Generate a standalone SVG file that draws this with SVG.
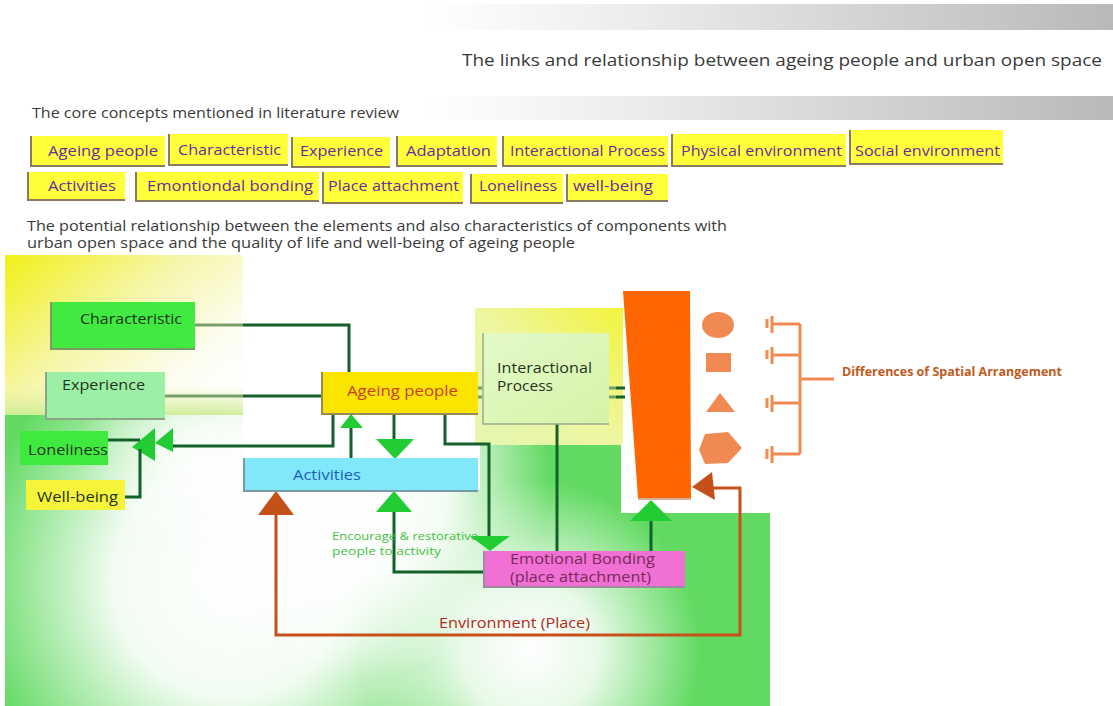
<svg xmlns="http://www.w3.org/2000/svg" width="1113" height="706" viewBox="0 0 1113 706">
<defs>
<linearGradient id="band" x1="0" y1="0" x2="1" y2="0"><stop offset="0" stop-color="#ffffff"/><stop offset="0.3" stop-color="#ececec"/><stop offset="1" stop-color="#b9b9b9"/></linearGradient>
<linearGradient id="yel" x1="0" y1="0" x2="1" y2="0.8"><stop offset="0" stop-color="#f0f018"/><stop offset="0.45" stop-color="#f6f6a8"/><stop offset="0.8" stop-color="#fdfdf0"/><stop offset="1" stop-color="#ffffff"/></linearGradient>
<linearGradient id="yelb" x1="0" y1="0" x2="0" y2="1"><stop offset="0" stop-color="#e8f0a0" stop-opacity="0"/><stop offset="1" stop-color="#c8ec90" stop-opacity="0.9"/></linearGradient>
<radialGradient id="wb1" gradientUnits="userSpaceOnUse" cx="230" cy="580" r="260"><stop offset="0" stop-color="#ffffff"/><stop offset="0.45" stop-color="#ffffff" stop-opacity="0.92"/><stop offset="1" stop-color="#ffffff" stop-opacity="0"/></radialGradient>
<radialGradient id="wb2" gradientUnits="userSpaceOnUse" cx="530" cy="650" r="170"><stop offset="0" stop-color="#ffffff"/><stop offset="0.4" stop-color="#ffffff" stop-opacity="0.85"/><stop offset="1" stop-color="#ffffff" stop-opacity="0"/></radialGradient>
<radialGradient id="wb3" gradientUnits="userSpaceOnUse" cx="350" cy="480" r="200"><stop offset="0" stop-color="#ffffff"/><stop offset="0.5" stop-color="#ffffff" stop-opacity="0.9"/><stop offset="1" stop-color="#ffffff" stop-opacity="0"/></radialGradient>
<radialGradient id="wb4" gradientUnits="userSpaceOnUse" cx="190" cy="450" r="110"><stop offset="0" stop-color="#ffffff" stop-opacity="0.85"/><stop offset="1" stop-color="#ffffff" stop-opacity="0"/></radialGradient>
<linearGradient id="ipbg" x1="1" y1="0" x2="0" y2="1"><stop offset="0" stop-color="#f2f43a"/><stop offset="0.5" stop-color="#eef6a0"/><stop offset="1" stop-color="#e4f6b0"/></linearGradient>
<linearGradient id="ipbox" x1="0" y1="0" x2="1" y2="1"><stop offset="0" stop-color="#e4fac8"/><stop offset="1" stop-color="#d4f4a8"/></linearGradient>
<clipPath id="gclip"><path d="M5,415 H243 V490 H480 V445 H621 V513 H770 V706 H5 Z"/></clipPath>
</defs>
<style>
.tag{fill:#ffff3a}
.edge{fill:none;stroke:#8a7a62;stroke-width:2}
.tt{font-family:"Open Sans","Noto Sans",sans-serif;font-size:15px;fill:#6a2c9c}
.hd{font-family:"Open Sans","Noto Sans",sans-serif;fill:#3a3a3a}
.nt{font-family:"Open Sans","Noto Sans",sans-serif;font-size:15px;fill:#1f3320}
.ln{fill:none;stroke:#15612a;stroke-width:3}
.lnl{fill:none;stroke:#7a9e6a;stroke-width:3}
.ar{fill:#22cc33}
.env{fill:none;stroke:#c8501a;stroke-width:3}
.envar{fill:#c4501a}
.shp{fill:#f08a52}
.br{fill:none;stroke:#f08a52;stroke-width:3}
</style>

<!-- header bands and titles -->
<rect x="430" y="4" width="683" height="26" fill="url(#band)"/>
<rect x="430" y="96" width="683" height="24" fill="url(#band)"/>
<text class="hd" x="462" y="66" font-size="17" textLength="640" lengthAdjust="spacingAndGlyphs">The links and relationship between ageing people and urban open space</text>
<text class="hd" x="32" y="118" font-size="14.5" textLength="367" lengthAdjust="spacingAndGlyphs">The core concepts mentioned in literature review</text>
<text class="hd" x="27" y="231" font-size="14.5" textLength="700" lengthAdjust="spacingAndGlyphs">The potential relationship between the elements and also characteristics of components with</text>
<text class="hd" x="27" y="248" font-size="14.5" textLength="548" lengthAdjust="spacingAndGlyphs">urban open space and the quality of life and well-being of ageing people</text>

<!-- tags -->
<g id="tag-ageing"><rect class="tag" x="30" y="136" width="135" height="30"/><path class="edge" d="M31,136 V166 H165"/><text class="tt" x="48" y="156" textLength="110" lengthAdjust="spacingAndGlyphs">Ageing people</text></g>
<g id="tag-characteristic"><rect class="tag" x="168" y="134" width="120" height="31"/><path class="edge" d="M169,134 V165 H288"/><text class="tt" x="178" y="155" textLength="103" lengthAdjust="spacingAndGlyphs">Characteristic</text></g>
<g id="tag-experience"><rect class="tag" x="291" y="137" width="99" height="30"/><path class="edge" d="M292,137 V167 H390"/><text class="tt" x="300" y="156" textLength="83" lengthAdjust="spacingAndGlyphs">Experience</text></g>
<g id="tag-adaptation"><rect class="tag" x="396" y="136" width="101" height="30"/><path class="edge" d="M397,136 V166 H497"/><text class="tt" x="406" y="156" textLength="85" lengthAdjust="spacingAndGlyphs">Adaptation</text></g>
<g id="tag-interactional"><rect class="tag" x="502" y="136" width="166" height="30"/><path class="edge" d="M503,136 V166 H668"/><text class="tt" x="510" y="156" textLength="155" lengthAdjust="spacingAndGlyphs">Interactional Process</text></g>
<g id="tag-physical"><rect class="tag" x="671" y="134" width="175" height="32"/><path class="edge" d="M672,134 V166 H846"/><text class="tt" x="681" y="156" textLength="161" lengthAdjust="spacingAndGlyphs">Physical environment</text></g>
<g id="tag-social"><rect class="tag" x="849" y="130" width="154" height="34"/><path class="edge" d="M850,130 V164 H1003"/><text class="tt" x="855" y="156" textLength="145" lengthAdjust="spacingAndGlyphs">Social environment</text></g>
<g id="tag-activities"><rect class="tag" x="27" y="172" width="98" height="28"/><path class="edge" d="M28,172 V200 H125"/><text class="tt" x="48" y="191" textLength="68" lengthAdjust="spacingAndGlyphs">Activities</text></g>
<g id="tag-emotional"><rect class="tag" x="135" y="172" width="184" height="29"/><path class="edge" d="M136,172 V201 H319"/><text class="tt" x="147" y="191" textLength="166" lengthAdjust="spacingAndGlyphs">Emontiondal bonding</text></g>
<g id="tag-place"><rect class="tag" x="322" y="172" width="141" height="31"/><path class="edge" d="M323,172 V203 H463"/><text class="tt" x="328" y="191" textLength="131" lengthAdjust="spacingAndGlyphs">Place attachment</text></g>
<g id="tag-loneliness"><rect class="tag" x="470" y="174" width="93" height="29"/><path class="edge" d="M471,174 V203 H563"/><text class="tt" x="479" y="191" textLength="78" lengthAdjust="spacingAndGlyphs">Loneliness</text></g>
<g id="tag-wellbeing"><rect class="tag" x="566" y="174" width="102" height="27"/><path class="edge" d="M567,174 V201 H668"/><text class="tt" x="573" y="191" textLength="80" lengthAdjust="spacingAndGlyphs">well-being</text></g>

<!-- diagram backgrounds -->
<g id="background">
<g clip-path="url(#gclip)">
<rect x="5" y="415" width="765" height="291" fill="#62da62"/>
<rect x="5" y="415" width="765" height="291" fill="url(#wb1)"/>
<rect x="5" y="415" width="765" height="291" fill="url(#wb2)"/>
<rect x="5" y="415" width="765" height="291" fill="url(#wb3)"/>
<rect x="5" y="415" width="765" height="291" fill="url(#wb4)"/>
</g>
<rect x="5" y="255" width="238" height="160" fill="url(#yel)"/>
<rect x="5" y="385" width="238" height="30" fill="url(#yelb)"/>
<rect x="475" y="308" width="148" height="137" fill="url(#ipbg)"/>
</g>

<!-- connectors -->
<g id="connectors">
<path class="lnl" d="M195,325 H243"/><path class="ln" d="M243,325 H349 V372"/>
<path class="lnl" d="M165,396 H243"/><path class="ln" d="M243,396 H321"/>
<path class="ln" d="M333,413 V446 H173"/>
<polygon class="ar" points="132,447 155,428 155,461"/>
<polygon class="ar" points="155,443 173,428 173,452"/>
<path class="ln" d="M100,440 H140"/>
<path class="ln" d="M118,497 H140 V449"/>
<path class="ln" d="M351,459 V427"/><polygon class="ar" points="340,428 363,428 351,414"/>
<path class="ln" d="M394,413 V440"/><polygon class="ar" points="376,439 414,439 395,459"/>
<path class="ln" d="M445,413 V444 H489 V537"/><polygon class="ar" points="470,536 510,536 490,551"/>
<path class="ln" d="M557,424 V551"/>
<path class="ln" d="M651,551 V520"/><polygon class="ar" points="630,521 672,521 651,500"/>
<path class="ln" d="M483,572 H394 V511"/><polygon class="ar" points="376,512 412,512 394,491"/>
<path class="lnl" d="M477,388 H483 M477,397 H483" stroke-width="2.5"/>
<path class="lnl" d="M608,388 H616 M608,397 H616" stroke-width="2.5"/>
<path class="ln" d="M616,388 H625 M616,397 H625" stroke-width="2.5"/>
<path class="env" d="M276,513 V635 H740 V488 H712"/>
<polygon class="envar" points="258,515 294,515 276,491"/>
<polygon class="envar" points="692,487 712,472 715,500"/>
<path class="br" d="M772,324 H800 M772,355 H800 M772,403 H800 M772,454 H800 M800,324 V454 M800,379 H834"/>
<path class="br" d="M772,316 V333 M772,347 V364 M772,395 V412 M772,446 V463" stroke-width="3.5"/>
<path class="br" d="M767,319 V328 M767,350 V359 M767,398 V408 M767,449 V459"/>
</g>

<!-- nodes -->
<g id="node-characteristic"><rect x="50" y="302" width="145" height="47" fill="#40ea40"/><path d="M51,302 V349 H195" fill="none" stroke="#7a9a6a" stroke-width="2"/><text class="nt" x="80" y="324" textLength="102" lengthAdjust="spacingAndGlyphs">Characteristic</text></g>
<g id="node-experience"><rect x="45" y="372" width="120" height="47" fill="#9cf0a6"/><path d="M46,372 V419 H165" fill="none" stroke="#8aa58a" stroke-width="2"/><text class="nt" x="62" y="390" textLength="83" lengthAdjust="spacingAndGlyphs">Experience</text></g>
<g id="node-loneliness"><rect x="20" y="431" width="88" height="34" fill="#3fea3f"/><text class="nt" x="28" y="455" textLength="80" lengthAdjust="spacingAndGlyphs">Loneliness</text></g>
<g id="node-wellbeing"><rect x="26" y="480" width="99" height="30" fill="#f6f43a"/><text class="nt" x="37" y="502" textLength="81" lengthAdjust="spacingAndGlyphs">Well-being</text></g>
<g id="node-ageing"><rect x="321" y="372" width="157" height="42" fill="#fbe400"/><path d="M322,372 V414 H478" fill="none" stroke="#9a8a50" stroke-width="2"/><text x="347" y="396" font-family="Open Sans, Noto Sans, sans-serif" font-size="15" fill="#c8401a" textLength="111" lengthAdjust="spacingAndGlyphs">Ageing people</text></g>
<g id="node-activities"><rect x="243" y="458" width="235" height="33" fill="#80e8f8"/><path d="M244,458 V491 H478" fill="none" stroke="#7a9aa8" stroke-width="2"/><text x="293" y="480" font-family="Open Sans, Noto Sans, sans-serif" font-size="15" fill="#2060c0" textLength="68" lengthAdjust="spacingAndGlyphs">Activities</text></g>
<g id="node-interactional"><rect x="482" y="333" width="127" height="91" fill="url(#ipbox)"/><path d="M483,333 V424 H609" fill="none" stroke="#9aaa90" stroke-width="1.5"/><text class="nt" x="497" y="373" textLength="95" lengthAdjust="spacingAndGlyphs">Interactional</text><text class="nt" x="497" y="391" textLength="56" lengthAdjust="spacingAndGlyphs">Process</text></g>
<g id="node-emotional"><rect x="483" y="551" width="202" height="36" fill="#f070d4"/><path d="M484,551 V587 H685" fill="none" stroke="#a08aa0" stroke-width="2"/><text x="510" y="564" font-family="Open Sans, Noto Sans, sans-serif" font-size="14.5" fill="#7a2a5a" textLength="145" lengthAdjust="spacingAndGlyphs">Emotional Bonding</text><text x="510" y="582" font-family="Open Sans, Noto Sans, sans-serif" font-size="14.5" fill="#7a2a5a" textLength="141" lengthAdjust="spacingAndGlyphs">(place attachment)</text></g>
<g id="node-place"><polygon points="623,291 690,291 691,498 638,498" fill="#ff6600"/><path d="M638,499 H691" stroke="#c89070" stroke-width="1.5"/></g>
<g id="shapes">
<ellipse class="shp" cx="718" cy="325" rx="16" ry="13"/>
<rect class="shp" x="706" y="353" width="25" height="19"/>
<polygon class="shp" points="706,412 720,393 735,412"/>
<polygon class="shp" points="705,434 728,432 742,448 728,463 705,464 699,450"/>
</g>
<g id="labels">
<text x="842" y="376" font-family="Open Sans, Noto Sans, sans-serif" font-weight="bold" font-size="12.5" fill="#c05a20" textLength="220" lengthAdjust="spacingAndGlyphs">Differences of Spatial Arrangement</text>
<text x="439" y="628" font-family="Open Sans, Noto Sans, sans-serif" font-size="14" fill="#b02a20" textLength="151" lengthAdjust="spacingAndGlyphs">Environment (Place)</text>
<text x="332" y="540" font-family="Open Sans, Noto Sans, sans-serif" font-size="11.5" fill="#44c044" textLength="146" lengthAdjust="spacingAndGlyphs">Encourage &amp; restorative</text>
<text x="332" y="555" font-family="Open Sans, Noto Sans, sans-serif" font-size="11.5" fill="#44c044" textLength="109" lengthAdjust="spacingAndGlyphs">people to activity</text>
</g>
</svg>
